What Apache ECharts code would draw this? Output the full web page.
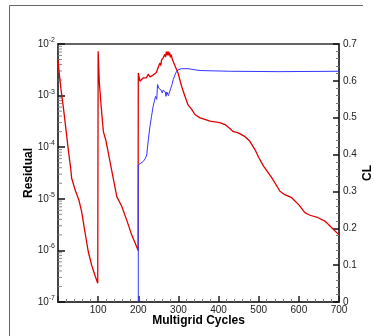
<!DOCTYPE html>
<html>
<head>
<meta charset="utf-8">
<script src="https://cdn.jsdelivr.net/npm/echarts@6/dist/echarts.min.js"></script>
<style>
  html, body { margin: 0; padding: 0; background: #fff; }
  #chart { width: 374px; height: 336px; }
</style>
</head>
<body>
<div id="chart"></div>
<script>
// residual history (log axis)
const residualCycles = [
  0, 2.5, 7.5, 13, 19, 25.7, 31.6, 34, 44, 52, 59, 67, 75.6, 84, 92, 99,
  100, 103, 107.5, 113, 119, 125.6, 130, 138, 146.5, 159, 171, 183.5, 197.5, 199.5,
  200, 204, 208, 212, 216, 220, 224.6, 229, 233, 237, 241, 245, 248, 251, 254, 256,
  258, 260, 262, 264, 266, 268, 270, 272, 274, 276, 278, 280, 282, 285, 287, 290,
  293, 299, 308, 316, 324, 333, 341, 354, 379, 403, 416, 428, 437, 449, 466, 478,
  491, 500, 512, 532, 553, 565, 582, 599, 615, 628, 648, 665, 682, 700
];
const residualValues = [
  5.0e-3, 2.95e-3, 1.32e-3, 6.2e-4, 2.5e-4, 8.9e-5, 3.9e-5, 2.5e-5, 1.38e-5, 9.5e-6, 5.6e-6, 2.3e-6, 9.3e-7, 5.1e-7, 3.3e-7, 2.3e-7,
  7.2e-3, 1.8e-3, 6.2e-4, 2.0e-4, 1.38e-4, 7.6e-5, 5.0e-5, 2.4e-5, 1.1e-5, 7.1e-6, 3.9e-6, 2.0e-6, 1.1e-6, 1.0e-6,
  2.75e-3, 1.9e-3, 1.8e-3, 2.2e-3, 2.3e-3, 2.2e-3, 2.6e-3, 2.3e-3, 2.3e-3, 2.5e-3, 2.6e-3, 2.8e-3, 3.0e-3, 3.8e-3, 4.3e-3, 3.8e-3,
  4.9e-3, 4.5e-3, 5.4e-3, 5.0e-3, 6.3e-3, 5.6e-3, 7.1e-3, 6.0e-3, 7.2e-3, 6.0e-3, 6.9e-3, 5.5e-3, 6.2e-3, 5.0e-3, 4.7e-3, 4.0e-3,
  3.7e-3, 2.75e-3, 1.5e-3, 9.8e-4, 6.6e-4, 5.4e-4, 4.3e-4, 3.7e-4, 3.2e-4, 3.0e-4, 2.75e-4, 2.3e-4, 2.0e-4, 1.9e-4, 1.6e-4, 1.3e-4,
  8.9e-5, 6.3e-5, 4.3e-5, 2.6e-5, 1.4e-5, 1.2e-5, 1.05e-5, 7.8e-6, 5.4e-6, 4.8e-6, 4.3e-6, 3.7e-6, 2.75e-6, 2.0e-6
];

// lift coefficient (right axis)
const clCycles = [
  200, 200, 204, 212, 218, 221, 225, 229, 233, 237, 243, 246, 248, 251, 254, 256, 260, 262,
  264.5, 267, 269, 271, 273, 275, 277, 281, 284, 287, 293, 299, 308, 324, 341, 354, 430, 550, 700
];
const clValues = [
  0, 0.372, 0.377, 0.381, 0.39, 0.399, 0.44, 0.476, 0.504, 0.531, 0.558, 0.55, 0.59, 0.58, 0.585, 0.576, 0.567, 0.575,
  0.58, 0.57, 0.558, 0.57, 0.572, 0.56, 0.567, 0.58, 0.59, 0.603, 0.621, 0.63, 0.633, 0.633, 0.63, 0.628, 0.626, 0.625, 0.626
];

const decades = [-7, -6, -5, -4, -3];
const minorMultipliers = [2, 3, 4, 5, 6, 7, 8, 9];

const residualData = residualCycles.map((c, i) => [c, residualValues[i]]);
const clData = clCycles.map((c, i) => [c, clValues[i]]);
const logMinorTicks = [];
decades.forEach(d => minorMultipliers.forEach(m => logMinorTicks.push([0, m * Math.pow(10, d)])));

const labelFont = { fontFamily: 'Liberation Sans', fontSize: 10, color: '#222' };
const nameFont = { fontFamily: 'Liberation Sans', fontSize: 12, fontWeight: 'bold', color: '#000' };

const chart = echarts.init(document.getElementById('chart'));
chart.setOption({
  animation: false,
  backgroundColor: '#fff',
  graphic: [{
    type: 'polyline',
    shape: { points: [[9.5, 340], [9.5, 5.5], [363, 5.5]] },
    style: { stroke: '#666', lineWidth: 1, fill: null }
  }],
  grid: {
    left: 58, right: 35, top: 44, bottom: 34,
    containLabel: false,
    outerBoundsMode: 'none',
    show: true, borderColor: '#333', borderWidth: 1.5
  },
  xAxis: {
    type: 'value',
    min: 0, max: 700, interval: 100,
    name: 'Multigrid Cycles',
    nameLocation: 'middle', nameGap: 13,
    nameMoveOverlap: false,
    nameTextStyle: nameFont,
    axisLine: { lineStyle: { color: '#333', width: 1.5 } },
    axisTick: { inside: true, length: 6, lineStyle: { color: '#222', width: 1.5 } },
    minorTick: { show: true, splitNumber: 5, length: 3, lineStyle: { color: '#777' } },
    axisLabel: Object.assign({ margin: 3, formatter: v => v === 0 ? '' : String(v) }, labelFont),
    splitLine: { show: false }
  },
  yAxis: [{
    type: 'log',
    logBase: 10,
    min: 1e-7, max: 1e-2, interval: 1,
    name: 'Residual',
    nameLocation: 'middle', nameGap: 23,
    nameMoveOverlap: false,
    nameTextStyle: nameFont,
    axisLine: { show: true, lineStyle: { color: '#444', width: 2 } },
    axisTick: { inside: true, length: 7, lineStyle: { color: '#111', width: 1.5 } },
    axisLabel: {
      margin: 3,
      formatter: v => '{b|10}{sup|' + Math.round(Math.log10(v)) + '}',
      rich: {
        b: { fontFamily: 'Liberation Sans', fontSize: 10, color: '#222' },
        sup: { fontFamily: 'Liberation Sans', fontSize: 7, color: '#222', padding: [0, 0, 8, 0] }
      }
    },
    splitLine: { show: false }
  }, {
    type: 'value',
    min: 0, max: 0.7, interval: 0.1,
    position: 'right',
    name: 'CL',
    nameLocation: 'middle', nameGap: 23,
    nameMoveOverlap: false,
    nameRotate: 90,
    nameTextStyle: nameFont,
    axisLine: { show: true, lineStyle: { color: '#333', width: 1.5 } },
    axisTick: { inside: true, length: 6, lineStyle: { color: '#111', width: 1.5 } },
    minorTick: { show: true, splitNumber: 5, length: 3, lineStyle: { color: '#777' } },
    axisLabel: Object.assign({ margin: 4, formatter: v => v === 0 ? '0' : v.toFixed(1) }, labelFont),
    splitLine: { show: false }
  }],
  series: [{
    type: 'custom',
    xAxisIndex: 0, yAxisIndex: 0,
    silent: true,
    data: logMinorTicks,
    renderItem: (params, api) => {
      const p = api.coord([0, api.value(1)]);
      return {
        type: 'line',
        shape: { x1: p[0], y1: p[1], x2: p[0] + 4, y2: p[1] },
        style: { stroke: '#888', lineWidth: 1 }
      };
    }
  }, {
    name: 'Residual',
    type: 'line',
    yAxisIndex: 0,
    data: residualData,
    showSymbol: false,
    lineStyle: { color: '#e00000', width: 1.3 }
  }, {
    name: 'CL',
    type: 'line',
    yAxisIndex: 1,
    data: clData,
    showSymbol: false,
    lineStyle: { color: '#3535ff', width: 1 }
  }]
});
</script>
</body>
</html>
